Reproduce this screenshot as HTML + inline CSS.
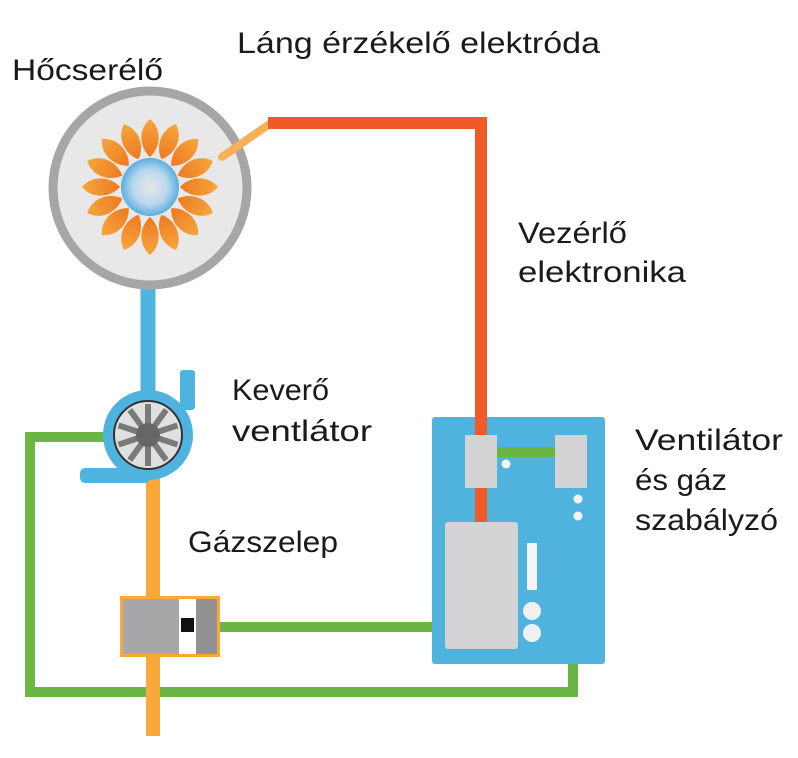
<!DOCTYPE html>
<html><head><meta charset="utf-8"><style>
html,body{margin:0;padding:0;background:#fff;}
svg{display:block}
text{font-family:"Liberation Sans","DejaVu Sans",sans-serif;font-size:30px;fill:#1a1a1a}
</style></head><body>
<svg width="798" height="758" viewBox="0 0 798 758" xmlns="http://www.w3.org/2000/svg">
<defs>
<radialGradient id="core" cx="50%" cy="50%" r="50%">
<stop offset="0" stop-color="#e6e6ea"/><stop offset="0.6" stop-color="#b9d7ee"/><stop offset="1" stop-color="#5aaee0"/>
</radialGradient>
<linearGradient id="pet" x1="0" y1="0" x2="0" y2="1">
<stop offset="0" stop-color="#f7a63c"/><stop offset="1" stop-color="#ec7a22"/>
</linearGradient>
</defs>
<polyline points="105,437 30,437 30,692 573,692 573,470" fill="none" stroke="#6bb544" stroke-width="10"/>
<line x1="218" y1="627" x2="436" y2="627" stroke="#6bb544" stroke-width="10"/>
<line x1="153" y1="470" x2="153" y2="736" stroke="#f9a83a" stroke-width="14"/>
<line x1="148" y1="285" x2="148" y2="400" stroke="#4fb3e0" stroke-width="15"/>
<circle cx="150" cy="188" r="97" fill="#e8e8e8" stroke="#a6a6a8" stroke-width="9"/>
<g transform="translate(150,187)">
<g fill="url(#pet)">
<path d="M0,-68 C12,-58 11,-40 0,-30 C-11,-40 -12,-58 0,-68Z" transform="rotate(0)"/>
<path d="M0,-68 C12,-58 11,-40 0,-30 C-11,-40 -12,-58 0,-68Z" transform="rotate(22.5)"/>
<path d="M0,-68 C12,-58 11,-40 0,-30 C-11,-40 -12,-58 0,-68Z" transform="rotate(45)"/>
<path d="M0,-68 C12,-58 11,-40 0,-30 C-11,-40 -12,-58 0,-68Z" transform="rotate(67.5)"/>
<path d="M0,-68 C12,-58 11,-40 0,-30 C-11,-40 -12,-58 0,-68Z" transform="rotate(90)"/>
<path d="M0,-68 C12,-58 11,-40 0,-30 C-11,-40 -12,-58 0,-68Z" transform="rotate(112.5)"/>
<path d="M0,-68 C12,-58 11,-40 0,-30 C-11,-40 -12,-58 0,-68Z" transform="rotate(135)"/>
<path d="M0,-68 C12,-58 11,-40 0,-30 C-11,-40 -12,-58 0,-68Z" transform="rotate(157.5)"/>
<path d="M0,-68 C12,-58 11,-40 0,-30 C-11,-40 -12,-58 0,-68Z" transform="rotate(180)"/>
<path d="M0,-68 C12,-58 11,-40 0,-30 C-11,-40 -12,-58 0,-68Z" transform="rotate(202.5)"/>
<path d="M0,-68 C12,-58 11,-40 0,-30 C-11,-40 -12,-58 0,-68Z" transform="rotate(225)"/>
<path d="M0,-68 C12,-58 11,-40 0,-30 C-11,-40 -12,-58 0,-68Z" transform="rotate(247.5)"/>
<path d="M0,-68 C12,-58 11,-40 0,-30 C-11,-40 -12,-58 0,-68Z" transform="rotate(270)"/>
<path d="M0,-68 C12,-58 11,-40 0,-30 C-11,-40 -12,-58 0,-68Z" transform="rotate(292.5)"/>
<path d="M0,-68 C12,-58 11,-40 0,-30 C-11,-40 -12,-58 0,-68Z" transform="rotate(315)"/>
<path d="M0,-68 C12,-58 11,-40 0,-30 C-11,-40 -12,-58 0,-68Z" transform="rotate(337.5)"/>
</g>
<circle r="29" fill="url(#core)"/>
</g>
<line x1="222" y1="157" x2="271" y2="123" stroke="#f6b055" stroke-width="8" stroke-linecap="round"/>
<polyline points="268,123 481,123 481,525" fill="none" stroke="#f05a28" stroke-width="12"/>
<rect x="180" y="370" width="15" height="40" rx="3" fill="#4fb3e0"/>
<rect x="80" y="468" width="70" height="15" rx="5" fill="#4fb3e0"/>
<circle cx="148" cy="435" r="45" fill="#4fb3e0"/>
<circle cx="148" cy="435" r="34" fill="#e0e0e0" stroke="#333" stroke-width="2"/>
<g stroke="#7a7a7a" stroke-width="6">
<line x1="148" y1="404" x2="148" y2="466"/>
<line x1="148" y1="404" x2="148" y2="466" transform="rotate(36 148 435)"/>
<line x1="148" y1="404" x2="148" y2="466" transform="rotate(72 148 435)"/>
<line x1="148" y1="404" x2="148" y2="466" transform="rotate(108 148 435)"/>
<line x1="148" y1="404" x2="148" y2="466" transform="rotate(144 148 435)"/>
</g>
<circle cx="148" cy="435" r="12" fill="#666"/>
<rect x="120" y="596" width="100" height="61" fill="#f9a83a"/>
<rect x="123" y="599" width="56" height="55" fill="#a7a7a9"/>
<rect x="179" y="599" width="17" height="55" fill="#fff"/>
<rect x="181" y="618" width="13" height="14" fill="#111"/>
<rect x="196" y="599" width="21" height="55" fill="#929294"/>
<rect x="432" y="417" width="173" height="247" rx="3" fill="#4fb3de"/>
<line x1="481" y1="417" x2="481" y2="525" stroke="#f05a28" stroke-width="12"/>
<line x1="497" y1="452" x2="557" y2="452" stroke="#6bb544" stroke-width="10"/>
<rect x="465" y="435" width="32" height="53" fill="#d3d3d5"/>
<rect x="555" y="435" width="32" height="53" fill="#d3d3d5"/>
<circle cx="506" cy="464" r="4.5" fill="#f4f4f4"/>
<circle cx="578" cy="499" r="4.5" fill="#f4f4f4"/>
<circle cx="578" cy="516" r="4.5" fill="#f4f4f4"/>
<rect x="445" y="522" width="73" height="127" rx="3" fill="#d3d3d5"/>
<rect x="527" y="543" width="10" height="47" fill="#f4f4f4"/>
<circle cx="532" cy="611" r="9" fill="#f0f0f0"/>
<circle cx="532" cy="633" r="9" fill="#f0f0f0"/>
<text x="12" y="80" textLength="151" lengthAdjust="spacingAndGlyphs">Hőcserélő</text>
<text x="237" y="53" textLength="363" lengthAdjust="spacingAndGlyphs">Láng érzékelő elektróda</text>
<text x="518" y="243" textLength="109" lengthAdjust="spacingAndGlyphs">Vezérlő</text>
<text x="518" y="282" textLength="168" lengthAdjust="spacingAndGlyphs">elektronika</text>
<text x="232" y="400" textLength="97" lengthAdjust="spacingAndGlyphs">Keverő</text>
<text x="232" y="441" textLength="140" lengthAdjust="spacingAndGlyphs">ventlátor</text>
<text x="188" y="552" textLength="150" lengthAdjust="spacingAndGlyphs">Gázszelep</text>
<text x="635" y="450" textLength="148" lengthAdjust="spacingAndGlyphs">Ventilátor</text>
<text x="635" y="490" textLength="92" lengthAdjust="spacingAndGlyphs">és gáz</text>
<text x="635" y="530" textLength="143" lengthAdjust="spacingAndGlyphs">szabályzó</text>
</svg>
</body></html>
